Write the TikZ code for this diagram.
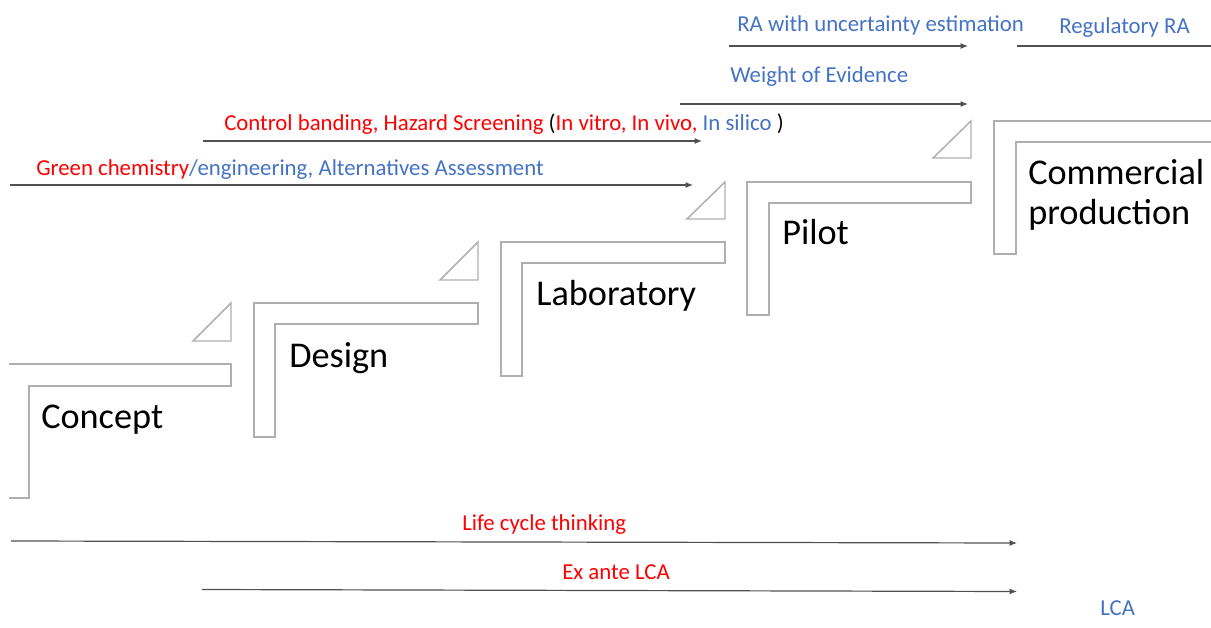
\documentclass[tikz,border=0pt]{standalone}
\usepackage{fontspec}
\setmainfont{Carlito}
\usetikzlibrary{arrows.meta}
\definecolor{cred}{RGB}{255,0,0}
\definecolor{cblue}{RGB}{68,114,196}
\definecolor{outl}{RGB}{175,175,175}
\definecolor{arr}{RGB}{80,80,80}
\begin{document}
\begin{tikzpicture}[x=0.75pt,y=-0.75pt,
  stepshape/.style={draw=outl,line width=1.1pt,line join=miter},
  stair/.style={draw=outl,line width=1.1pt,line join=miter},
  flow/.style={draw=arr,line width=0.9pt,-{Latex[length=5.5pt,width=4.5pt]}},
  plainline/.style={draw=arr,line width=0.9pt},
  small/.style={inner sep=0pt,anchor=base west,font=\fontsize{17.1}{20}\selectfont},
  big/.style={inner sep=0pt,anchor=base west,font=\fontsize{27.2}{30}\selectfont,align=left}]
\useasboundingbox (0,0) rectangle (1211,628);
% L-shaped steps
\draw[stepshape] (9,364) -- (231,364) -- (231,386) -- (29,386) -- (29,498) -- (9,498);
\draw[stepshape] (254,437) -- (254,303) -- (478,303) -- (478,324) -- (275,324) -- (275,437) -- cycle;
\draw[stepshape] (501,376) -- (501,242) -- (725,242) -- (725,263) -- (522,263) -- (522,376) -- cycle;
\draw[stepshape] (747,315) -- (747,182) -- (971,182) -- (971,203) -- (769,203) -- (769,315) -- cycle;
\draw[stepshape] (1211,121) -- (994,121) -- (994,254) -- (1016,254) -- (1016,142) -- (1211,142);
% triangles
\draw[stair] (231,303) -- (231,341) -- (193,341) -- cycle;
\draw[stair] (478,242) -- (478,280) -- (440,280) -- cycle;
\draw[stair] (725,182) -- (725,219) -- (687,219) -- cycle;
\draw[stair] (971,121) -- (971,158) -- (933,158) -- cycle;
% stage labels
\node[big] (concept) at (41,428) {Concept};
\node[big] (design) at (289,367) {Design};
\node[big] (lab) at (536,305) {Laboratory};
\node[big] (pilot) at (782,244.5) {Pilot};
\node[big] (comm) at (1028,184) {Commercial};
\node[big] (prod) at (1028,224) {production};
% arrow endpoints
\coordinate (g1) at (10,185); \coordinate (g2) at (693,185);
\coordinate (c1) at (203,141); \coordinate (c2) at (702,141);
\coordinate (w1) at (680,104); \coordinate (w2) at (968,104);
\coordinate (r1) at (729,46); \coordinate (r2) at (968,46);
\coordinate (q1) at (1017,46); \coordinate (q2) at (1211,46);
\coordinate (l1) at (11,541); \coordinate (l2) at (1017,543);
\coordinate (e1) at (202,589.5); \coordinate (e2) at (1017,591.5);
\draw[flow] (g1) -- (g2);
\draw[flow] (c1) -- (c2);
\draw[flow] (w1) -- (w2);
\draw[flow] (r1) -- (r2);
\draw[plainline] (q1) -- (q2);
\draw[flow] (l1) -- (l2);
\draw[flow] (e1) -- (e2);
% text labels
\node[small] (green) at (36,175) {\textcolor{cred}{Green chemistry}\textcolor{cblue}{/engineering, Alternatives Assessment}};
\node[small] (control) at (224,130.5) {\textcolor{cred}{Control banding, Hazard Screening} (\textcolor{cred}{In vitro, In vivo,} \textcolor{cblue}{In silico} )};
\node[small,text=cblue] (woe) at (730,82.5) {Weight of Evidence};
\node[small,text=cblue] (rau) at (737,31.5) {RA with uncertainty estimation};
\node[small,text=cblue] (reg) at (1059,33) {Regulatory RA};
\node[small,text=cred] (lct) at (462,530) {Life cycle thinking};
\node[small,text=cred] (exa) at (562,579) {Ex ante LCA};
\node[small,text=cblue] (lca) at (1100,615) {LCA};
\end{tikzpicture}
\end{document}
